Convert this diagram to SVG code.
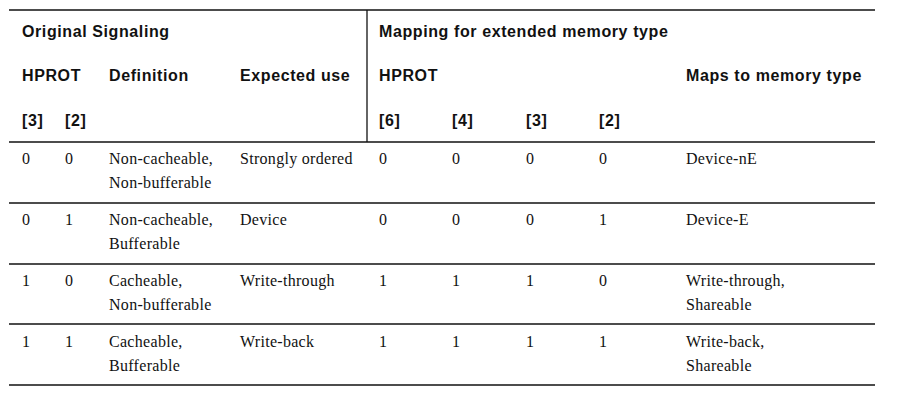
<svg xmlns="http://www.w3.org/2000/svg" width="897" height="400" viewBox="0 0 897 400">
<style>
.h{font-family:"Liberation Sans",Arial,sans-serif;font-weight:bold;font-size:16px;letter-spacing:0.6px;fill:#111}
.d{font-family:"Liberation Serif","Times New Roman",serif;font-size:16px;letter-spacing:0.3px;fill:#111}
.l{stroke:#111;stroke-width:1.3}
</style>
<rect width="897" height="400" fill="#fff"/>
<g id="lines">
<line class="l" x1="9" y1="10" x2="875" y2="10"/>
<line class="l" x1="9" y1="142" x2="875" y2="142"/>
<line class="l" x1="367" y1="10" x2="367" y2="142"/>
<line class="l" x1="9" y1="203" x2="875" y2="203"/>
<line class="l" x1="9" y1="264" x2="875" y2="264"/>
<line class="l" x1="9" y1="324" x2="875" y2="324"/>
<line class="l" x1="9" y1="385" x2="875" y2="385"/>
</g>
<g id="header">
<text class="h" x="22" y="37">Original Signaling</text>
<text class="h" x="379" y="37">Mapping for extended memory type</text>
<text class="h" x="22" y="81">HPROT</text>
<text class="h" x="109" y="81">Definition</text>
<text class="h" x="240" y="81">Expected use</text>
<text class="h" x="379" y="81">HPROT</text>
<text class="h" x="686" y="81">Maps to memory type</text>
<text class="h" x="22" y="126">[3]</text>
<text class="h" x="65" y="126">[2]</text>
<text class="h" x="379" y="126">[6]</text>
<text class="h" x="452" y="126">[4]</text>
<text class="h" x="526" y="126">[3]</text>
<text class="h" x="599" y="126">[2]</text>
</g>
<g id="row1">
<text class="d" x="22" y="164">0</text><text class="d" x="65" y="164">0</text>
<text class="d" x="109" y="164">Non-cacheable,</text><text class="d" x="109" y="188">Non-bufferable</text>
<text class="d" x="240" y="164">Strongly ordered</text>
<text class="d" x="379" y="164">0</text><text class="d" x="452" y="164">0</text><text class="d" x="526" y="164">0</text><text class="d" x="599" y="164">0</text>
<text class="d" x="686" y="164">Device-nE</text>
</g>
<g id="row2">
<text class="d" x="22" y="225">0</text><text class="d" x="65" y="225">1</text>
<text class="d" x="109" y="225">Non-cacheable,</text><text class="d" x="109" y="249">Bufferable</text>
<text class="d" x="240" y="225">Device</text>
<text class="d" x="379" y="225">0</text><text class="d" x="452" y="225">0</text><text class="d" x="526" y="225">0</text><text class="d" x="599" y="225">1</text>
<text class="d" x="686" y="225">Device-E</text>
</g>
<g id="row3">
<text class="d" x="22" y="286">1</text><text class="d" x="65" y="286">0</text>
<text class="d" x="109" y="286">Cacheable,</text><text class="d" x="109" y="310">Non-bufferable</text>
<text class="d" x="240" y="286">Write-through</text>
<text class="d" x="379" y="286">1</text><text class="d" x="452" y="286">1</text><text class="d" x="526" y="286">1</text><text class="d" x="599" y="286">0</text>
<text class="d" x="686" y="286">Write-through,</text><text class="d" x="686" y="310">Shareable</text>
</g>
<g id="row4">
<text class="d" x="22" y="347">1</text><text class="d" x="65" y="347">1</text>
<text class="d" x="109" y="347">Cacheable,</text><text class="d" x="109" y="371">Bufferable</text>
<text class="d" x="240" y="347">Write-back</text>
<text class="d" x="379" y="347">1</text><text class="d" x="452" y="347">1</text><text class="d" x="526" y="347">1</text><text class="d" x="599" y="347">1</text>
<text class="d" x="686" y="347">Write-back,</text><text class="d" x="686" y="371">Shareable</text>
</g>
</svg>
